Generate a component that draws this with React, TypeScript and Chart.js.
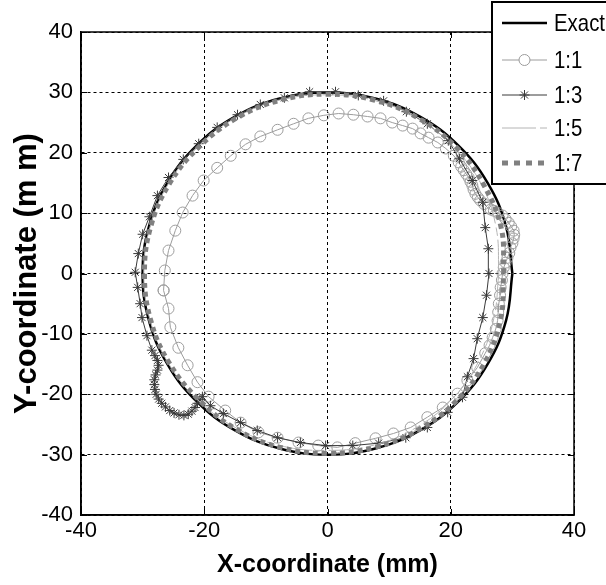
import React, { useEffect, useRef } from "react";
import { Chart, registerables } from "chart.js";

Chart.register(...registerables);

const FONT = "'Liberation Sans', Arial, Helvetica, sans-serif";

const xTickValues = [-40, -20, 0, 20, 40];
const yTickValues = [-40, -30, -20, -10, 0, 10, 20, 30, 40];
const seriesLabels = ["Exact", "1:1", "1:3", "1:5", "1:7"];

// Exact trajectory (reference circle)
const exactPts: [number, number][] = [
  [30, 0], [28.98, 7.76], [25.98, 15.0], [21.21, 21.21], [15.0, 25.98], [7.76, 28.98],
  [0, 30], [-7.76, 28.98], [-15.0, 25.98], [-21.21, 21.21], [-25.98, 15.0], [-28.98, 7.76],
  [-30, 0], [-28.98, -7.76], [-25.98, -15.0], [-21.21, -21.21], [-15.0, -25.98], [-7.76, -28.98],
  [0, -30], [7.76, -28.98], [15.0, -25.98], [21.21, -21.21], [25.98, -15.0], [28.98, -7.76], [30, 0],
];

// 1:1 ratio
const r11Pts: [number, number][] = [
  [-26.6, -2.8], [-26.4, 0.5], [-25.8, 3.8], [-24.7, 7.1], [-23.5, 10.1], [-21.9, 12.9],
  [-20.1, 15.4], [-17.9, 17.5], [-15.7, 19.5], [-13.3, 21.4], [-10.9, 22.7], [-8.1, 23.8],
  [-5.5, 24.8], [-3.1, 25.7], [-0.6, 26.2], [1.8, 26.5], [4.2, 26.3], [6.5, 26.0],
  [8.6, 25.7], [10.5, 25.0], [12.2, 24.5], [13.8, 24.0], [15.1, 23.2], [16.4, 22.5],
  [17.9, 21.7], [19.2, 20.7], [20.5, 19.5], [21.3, 18.4], [21.7, 17.7], [22.1, 17.1],
  [22.5, 16.5], [22.9, 15.9], [23.2, 15.2], [23.5, 14.6], [23.7, 13.9], [24.0, 13.2],
  [24.4, 12.6], [24.8, 12.1], [25.4, 11.5], [26.0, 10.9], [26.5, 10.6], [27.0, 10.4],
  [27.7, 10.0], [28.4, 9.6], [28.9, 9.0], [29.4, 8.4], [29.8, 7.8], [30.2, 7.1],
  [30.3, 6.4], [30.2, 5.8], [30.0, 5.0], [29.7, 4.3], [29.5, 3.4], [29.2, 2.6],
  [28.9, 1.8], [28.6, 1.0], [28.4, 0.0], [28.3, -1.1], [28.1, -2.3], [28.0, -3.6],
  [27.8, -5.0], [27.7, -6.4], [27.6, -7.8], [27.3, -9.2], [26.8, -10.6], [26.3, -11.9],
  [25.6, -13.2], [24.3, -15.6], [22.7, -17.7], [21.1, -19.9], [18.7, -22.2], [16.2, -23.8],
  [13.5, -25.5], [10.7, -26.5], [7.8, -27.3], [4.5, -28.1], [1.6, -28.8], [-1.5, -28.5],
  [-4.7, -28.0], [-8.1, -27.2], [-11.2, -26.3], [-14.1, -24.7], [-16.6, -22.7], [-19.3, -20.4],
  [-21.1, -18.0], [-22.7, -15.2], [-24.2, -12.3], [-25.5, -8.9], [-25.8, -5.8], [-26.6, -2.8],
];

// 1:3 ratio
const r13Pts: [number, number][] = [
  [-20.3, -20.4], [-19.0, -21.9], [-16.9, -23.2], [-14.1, -24.7], [-11.4, -26.0], [-8.1, -27.2],
  [-4.4, -28.0], [-0.3, -28.5], [4.1, -28.5], [8.3, -28.1], [12.7, -27.2], [16.2, -25.5],
  [19.5, -23.0], [21.9, -20.5], [22.7, -17.1], [23.7, -14.1], [24.3, -10.8], [25.2, -7.3],
  [25.8, -3.6], [26.2, 0.0], [26.1, 4.1], [25.6, 7.6], [25.2, 11.8], [23.5, 15.4],
  [21.4, 19.0], [19.6, 22.0], [16.2, 24.8], [12.8, 26.8], [9.1, 28.6], [5.0, 29.5],
  [1.3, 30.1], [-2.9, 30.1], [-7.0, 29.1], [-10.9, 28.0], [-14.6, 26.3], [-17.9, 24.2],
  [-20.9, 21.5], [-23.4, 18.9], [-25.8, 15.9], [-27.6, 12.9], [-28.9, 9.4], [-30.0, 6.5],
  [-30.7, 3.3], [-31.2, 0.2], [-30.8, -2.3], [-30.4, -5.0], [-30.1, -7.3], [-29.3, -10.3],
  [-28.5, -12.7], [-28.0, -13.6], [-27.6, -14.4], [-27.4, -15.2], [-27.6, -16.0], [-27.9, -16.8],
  [-28.1, -17.6], [-28.1, -18.4], [-28.0, -19.2], [-27.8, -20.0], [-27.4, -20.8], [-26.9, -21.5],
  [-26.3, -22.1], [-25.6, -22.7], [-24.9, -23.1], [-24.1, -23.4], [-23.3, -23.5], [-22.6, -23.3],
  [-22.0, -22.8], [-21.5, -22.2], [-21.1, -21.5], [-20.7, -20.9],
];

// 1:5 ratio
const r15Pts: [number, number][] = [
  [27.8, 0], [27.4, 7.4], [25.2, 14.3], [20.8, 20.6], [14.9, 25.5], [7.8, 28.6],
  [0, 29.6], [-7.8, 28.7], [-14.9, 25.8], [-21.0, 21.0], [-25.8, 14.9], [-28.8, 7.7],
  [-29.8, 0], [-28.8, -7.7], [-25.8, -14.9], [-21.0, -21.0], [-14.8, -25.6], [-7.7, -28.5],
  [0, -29.3], [7.6, -28.4], [14.6, -25.4], [20.4, -20.6], [24.6, -14.4], [27.0, -7.4], [27.8, 0],
];

// 1:7 ratio
const r17Pts: [number, number][] = [
  [28.6, 0], [28.2, 7.5], [25.4, 14.6], [20.9, 20.9], [14.8, 25.7], [7.7, 28.7],
  [0, 29.7], [-7.7, 28.7], [-14.8, 25.7], [-20.9, 20.9], [-25.7, 14.8], [-28.7, 7.7],
  [-29.7, 0], [-28.7, -7.7], [-25.7, -14.8], [-20.9, -20.9], [-14.8, -25.8], [-7.7, -28.8],
  [0, -29.8], [7.7, -28.8], [14.9, -25.8], [21.0, -21.0], [25.5, -14.8], [28.1, -7.6], [28.6, 0],
];

const toXY = (pts: [number, number][]) => pts.map(([x, y]) => ({ x, y }));

const COL_EXACT = "#000000";
const COL_11 = "#9c9c9c";
const COL_13 = "#3a3a3a";
const COL_15 = "#b4b4b4";
const COL_17 = "#808080";

function drawStar(ctx: CanvasRenderingContext2D, x: number, y: number, r: number) {
  ctx.beginPath();
  ctx.moveTo(x - r, y); ctx.lineTo(x + r, y);
  ctx.moveTo(x, y - r); ctx.lineTo(x, y + r);
  const d = r * Math.SQRT1_2;
  ctx.moveTo(x - d, y - d); ctx.lineTo(x + d, y + d);
  ctx.moveTo(x - d, y + d); ctx.lineTo(x + d, y - d);
  ctx.stroke();
}

const framePlugin = {
  id: "frameAndLegend",
  afterDraw(chart: any) {
    const { ctx, chartArea, scales } = chart;
    const { left, right, top, bottom } = chartArea;
    ctx.save();
    ctx.setLineDash([]);
    ctx.strokeStyle = "#000";
    ctx.lineWidth = 1.5;
    ctx.strokeRect(left, top, right - left, bottom - top);
    ctx.lineWidth = 1;
    const tl = 6;
    xTickValues.forEach((v) => {
      const px = Math.round(scales.x.getPixelForValue(v)) + 0.5;
      ctx.beginPath();
      ctx.moveTo(px, bottom); ctx.lineTo(px, bottom - tl);
      ctx.moveTo(px, top); ctx.lineTo(px, top + tl);
      ctx.stroke();
    });
    yTickValues.forEach((v) => {
      const py = Math.round(scales.y.getPixelForValue(v)) + 0.5;
      ctx.beginPath();
      ctx.moveTo(left, py); ctx.lineTo(left + tl, py);
      ctx.moveTo(right, py); ctx.lineTo(right - tl, py);
      ctx.stroke();
    });

    // Legend box
    const bx = 492, by = 2, bw = 140, bh = 182;
    ctx.fillStyle = "#fff";
    ctx.fillRect(bx, by, bw, bh);
    ctx.lineWidth = 2;
    ctx.strokeStyle = "#000";
    ctx.strokeRect(bx, by, bw, bh);

    const x0 = 502, x1 = 547, xm = 524.5, tx = 554;
    const rows = [23, 60, 95, 128, 163];
    // Exact
    ctx.strokeStyle = COL_EXACT; ctx.lineWidth = 2.5;
    ctx.beginPath(); ctx.moveTo(x0, rows[0]); ctx.lineTo(x1, rows[0]); ctx.stroke();
    // 1:1
    ctx.strokeStyle = COL_11; ctx.lineWidth = 1;
    ctx.beginPath(); ctx.moveTo(x0, rows[1]); ctx.lineTo(x1, rows[1]); ctx.stroke();
    ctx.fillStyle = "#fff";
    ctx.beginPath(); ctx.arc(xm, rows[1], 5.5, 0, Math.PI * 2); ctx.fill(); ctx.stroke();
    // 1:3
    ctx.strokeStyle = COL_13; ctx.lineWidth = 1;
    ctx.beginPath(); ctx.moveTo(x0, rows[2]); ctx.lineTo(x1, rows[2]); ctx.stroke();
    drawStar(ctx, xm, rows[2], 5);
    // 1:5
    ctx.strokeStyle = COL_15; ctx.lineWidth = 1;
    ctx.setLineDash([34, 4, 8, 40]);
    ctx.beginPath(); ctx.moveTo(x0, rows[3]); ctx.lineTo(x1, rows[3]); ctx.stroke();
    // 1:7
    ctx.strokeStyle = COL_17; ctx.lineWidth = 5;
    ctx.setLineDash([6, 6]);
    ctx.beginPath(); ctx.moveTo(x0, rows[4]); ctx.lineTo(x1 + 2, rows[4]); ctx.stroke();
    ctx.setLineDash([]);

    // Legend labels (slightly condensed, like the original figure font)
    ctx.fillStyle = "#000";
    ctx.font = `24px ${FONT}`;
    ctx.textBaseline = "middle";
    ctx.textAlign = "left";
    seriesLabels.forEach((s, i) => {
      ctx.save();
      ctx.translate(tx, rows[i] + 1);
      ctx.scale(0.85, 1);
      ctx.fillText(s, 0, 0);
      ctx.restore();
    });
    ctx.restore();
  },
};

export default function App() {
  const ref = useRef<HTMLCanvasElement | null>(null);
  useEffect(() => {
    if (!ref.current) return;
    const gridCommon = { color: "#000", lineWidth: 1, drawTicks: false };
    const chart = new Chart(ref.current, {
      type: "scatter",
      data: {
        datasets: [
          {
            label: seriesLabels[0], data: toXY(exactPts), showLine: true,
            borderColor: COL_EXACT, borderWidth: 2.5, pointRadius: 0, tension: 0.4, order: 5,
          },
          {
            label: seriesLabels[1], data: toXY(r11Pts), showLine: true,
            borderColor: COL_11, borderWidth: 1, tension: 0, order: 4,
            pointStyle: "circle", pointRadius: 5.5, pointBorderColor: COL_11,
            pointBackgroundColor: "rgba(0,0,0,0)", pointBorderWidth: 1,
          },
          {
            label: seriesLabels[2], data: toXY(r13Pts), showLine: true,
            borderColor: COL_13, borderWidth: 1, tension: 0, order: 3,
            pointStyle: "star", pointRadius: 5, pointBorderColor: COL_13,
            pointBackgroundColor: COL_13, pointBorderWidth: 1,
          },
          {
            label: seriesLabels[3], data: toXY(r15Pts), showLine: true,
            borderColor: COL_15, borderWidth: 1, borderDash: [34, 4, 8, 4],
            pointRadius: 0, tension: 0.4, order: 2,
          },
          {
            label: seriesLabels[4], data: toXY(r17Pts), showLine: true,
            borderColor: COL_17, borderWidth: 5, borderDash: [5, 4],
            pointRadius: 0, tension: 0.4, order: 1,
          },
        ],
      },
      options: {
        responsive: false,
        animation: false,
        devicePixelRatio: 1,
        layout: { padding: { top: 32, right: 32, left: 0, bottom: 0 } },
        plugins: { legend: { display: false }, tooltip: { enabled: false } },
        scales: {
          x: {
            type: "linear", min: -40, max: 40,
            afterBuildTicks: (s: any) => { s.ticks = xTickValues.map((v) => ({ value: v })); },
            ticks: { color: "#000", font: { family: FONT, size: 22 }, padding: 3, maxRotation: 0, autoSkip: false },
            grid: gridCommon,
            border: { display: true, color: "#000", width: 1.5, dash: [3, 3] },
            title: {
              display: true, text: "X-coordinate (mm)", color: "#000",
              font: { family: FONT, size: 25, weight: "bold" }, padding: { top: 0, bottom: 5 },
            },
            afterFit: (s: any) => { s.height = 70; },
          },
          y: {
            type: "linear", min: -40, max: 40,
            afterBuildTicks: (s: any) => { s.ticks = yTickValues.map((v) => ({ value: v })); },
            ticks: { color: "#000", font: { family: FONT, size: 22 }, padding: 8, autoSkip: false },
            grid: gridCommon,
            border: { display: true, color: "#000", width: 1.5, dash: [3, 3] },
            title: {
              display: true, text: "Y-coordinate (m m)", color: "#000",
              font: { family: FONT, size: 31, weight: "bold" }, padding: { top: 9, bottom: 0 },
            },
            afterFit: (s: any) => { s.width = 81; },
          },
        },
      },
      plugins: [framePlugin],
    } as any);
    return () => chart.destroy();
  }, []);
  return (
    <div style={{ position: "fixed", left: 0, top: 0, width: 606, height: 585, background: "#fff" }}>
      <canvas ref={ref} width={606} height={585} style={{ display: "block" }} />
    </div>
  );
}
